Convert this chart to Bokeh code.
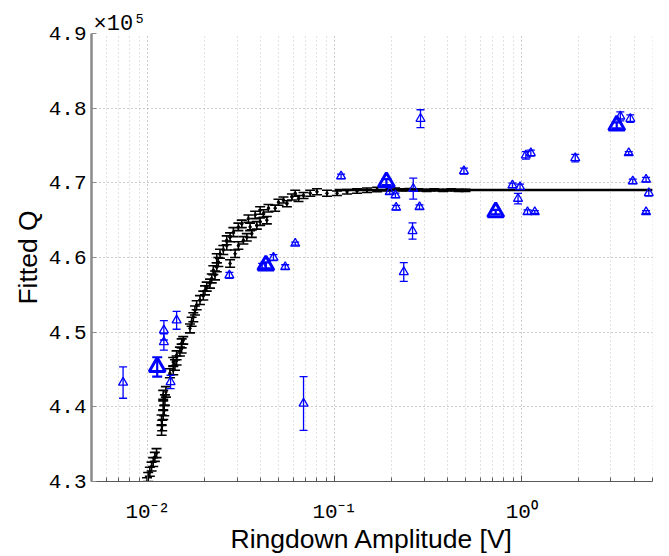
from bokeh.plotting import figure
from bokeh.models import (ColumnDataSource, Whisker, TeeHead, FixedTicker, Title)
from bokeh.embed import file_html
from bokeh.resources import INLINE

# ---------------- data (Q in units of 1e5) ----------------
black_amp = [0.00990, 0.01004, 0.01025, 0.01047, 0.01068, 0.01090, 0.01113,
             0.01184, 0.01193, 0.01184, 0.01208, 0.01223, 0.01208, 0.01234, 0.01208, 0.01249,
             0.01312, 0.01367, 0.01396, 0.01367, 0.01425, 0.01425, 0.01484, 0.01516, 0.01516, 0.01546,
             0.01680, 0.01715, 0.01750, 0.01786, 0.01824, 0.01900, 0.01979, 0.02021, 0.02064,
             0.02149, 0.02196, 0.02287, 0.02239, 0.02336, 0.02382, 0.02336, 0.02432, 0.02533,
             0.02642, 0.02642, 0.02753, 0.02867, 0.03049, 0.03180,
             0.02753, 0.02928, 0.03049, 0.03243, 0.03382, 0.03597, 0.03523, 0.03826, 0.03986, 0.04329,
             0.03450, 0.03748, 0.03986, 0.04151, 0.04416, 0.04797, 0.04996, 0.05315, 0.05542,
             0.05896, 0.06141, 0.06396, 0.06803, 0.07389, 0.08027, 0.09082,
             0.1028, 0.1163, 0.1315, 0.1488, 0.1684, 0.1905,
             0.210, 0.230, 0.250, 0.280, 0.310, 0.340, 0.380, 0.420, 0.460, 0.500]
black_q = [4.299, 4.306, 4.313, 4.320, 4.326, 4.333, 4.338,
           4.369, 4.375, 4.382, 4.389, 4.395, 4.402, 4.409, 4.416, 4.420,
           4.445, 4.449, 4.456, 4.460, 4.462, 4.469, 4.474, 4.478, 4.485, 4.489,
           4.505, 4.514, 4.520, 4.529, 4.536, 4.543, 4.549, 4.556, 4.561,
           4.565, 4.572, 4.576, 4.583, 4.587, 4.594, 4.599, 4.605, 4.610,
           4.616, 4.623, 4.627, 4.634, 4.641, 4.645,
           4.592, 4.605, 4.616, 4.623, 4.627, 4.632, 4.641, 4.643, 4.648, 4.650,
           4.652, 4.657, 4.663, 4.659, 4.666, 4.666, 4.674, 4.677, 4.672,
           4.681, 4.686, 4.679, 4.683, 4.686, 4.688, 4.686,
           4.686, 4.688, 4.689, 4.690, 4.691, 4.692,
           4.6915, 4.6905, 4.691, 4.6905, 4.690, 4.6905, 4.690, 4.6905, 4.690, 4.690]
black_err = [0.006, 0.006, 0.006, 0.006, 0.006, 0.006, 0.006,
             0.007, 0.007, 0.007, 0.006, 0.007, 0.006, 0.007, 0.006, 0.007,
             0.006, 0.006, 0.007, 0.006, 0.006, 0.006, 0.006, 0.006, 0.006, 0.005,
             0.006, 0.006, 0.006, 0.006, 0.006, 0.006, 0.006, 0.006, 0.006,
             0.006, 0.006, 0.006, 0.006, 0.006, 0.006, 0.006, 0.006, 0.006,
             0.006, 0.006, 0.006, 0.006, 0.005, 0.005,
             0.005, 0.005, 0.005, 0.005, 0.005, 0.005, 0.005, 0.005, 0.005, 0.005,
             0.005, 0.005, 0.005, 0.005, 0.005, 0.004, 0.004, 0.004, 0.004,
             0.004, 0.004, 0.004, 0.004, 0.004, 0.004, 0.004,
             0.003, 0.003, 0.003, 0.003, 0.003, 0.003,
             0.0015, 0.0015, 0.0015, 0.0015, 0.0015, 0.0015, 0.0015, 0.0015, 0.0015, 0.0015]

fit_amp = [0.1, 5.0]
fit_q = [4.6905, 4.6905]

blue_amp = [0.00737, 0.01218, 0.01218, 0.01425, 0.01323, 0.02729, 0.04086, 0.04697,
            0.05428, 0.06141, 0.06803, 0.1080, 0.1967, 0.2110, 0.2129, 0.2627,
            0.2873, 0.2838, 0.2604, 0.2338, 0.4905, 0.8915, 0.979, 0.955,
            1.051, 1.118, 1.073, 1.174, 1.932, 3.366, 3.808, 3.734,
            3.924, 4.622, 4.78, 4.622]
blue_q = [4.4325, 4.5025, 4.4869, 4.5159, 4.4333, 4.5762, 4.5882, 4.5999,
          4.5873, 4.6186, 4.4044, 4.7087, 4.6877, 4.6833, 4.6668, 4.6922,
          4.7859, 4.6676, 4.6355, 4.5806, 4.7158, 4.6967, 4.6944, 4.6788,
          4.7368, 4.7399, 4.6609, 4.6609, 4.7332, 4.789, 4.7859, 4.7399,
          4.702, 4.7043, 4.6863, 4.6609]
blue_err = [0.021, 0.013, 0.011, 0.012, 0.009, 0.004, 0.004, 0.004,
            0.003, 0.002, 0.036, 0.003, 0.003, 0.003, 0.003, 0.014,
            0.012, 0.003, 0.011, 0.0125, 0.004, 0.003, 0.004, 0.007,
            0.005, 0.004, 0.003, 0.002, 0.005, 0.006, 0.005, 0.002,
            0.003, 0.003, 0.004, 0.002]

blue_big_amp = [0.01122, 0.04277, 0.1888, 0.7255, 3.22]
blue_big_q = [4.4534, 4.5896, 4.7011, 4.6609, 4.777]
blue_big_err = [0.013, 0.004, 0.004, 0.003, 0.004]

x_ticks = [0.01, 0.1, 1.0]
x_tick_labels = ["10\u207b\u00b2", "10\u207b\u00b9", "10\u2070"]
x_minor_ticks = [0.005, 0.006, 0.007, 0.008, 0.009,
                 0.02, 0.03, 0.04, 0.05, 0.06, 0.07, 0.08, 0.09,
                 0.2, 0.3, 0.4, 0.5, 0.6, 0.7, 0.8, 0.9,
                 2.0, 3.0, 4.0, 5.0]
y_ticks = [4.3, 4.4, 4.5, 4.6, 4.7, 4.8, 4.9]
y_tick_labels = ["4.3", "4.4", "4.5", "4.6", "4.7", "4.8", "4.9"]
exp_label = "\u00d710\u2075"
x_label = "Ringdown Amplitude [V]"
y_label = "Fitted Q"


def src(a, q, e):
    return ColumnDataSource(dict(amp=a, q=q,
                                 lo=[v - d for v, d in zip(q, e)],
                                 hi=[v + d for v, d in zip(q, e)]))


p = figure(width=661, height=556, x_axis_type="log",
           x_range=(0.004995, 5.003), y_range=(4.3, 4.9),
           output_backend="svg", toolbar_location=None,
           min_border_left=91, min_border_right=9,
           min_border_top=33, min_border_bottom=75)

p.title = Title(text=exp_label, align="left", text_font="Liberation Mono",
                text_font_size="22px", text_font_style="normal",
                text_color="black", offset=2, standoff=-6)

p.background_fill_color = "white"
p.border_fill_color = "white"
p.outline_line_color = None

# grids
p.xgrid.ticker = FixedTicker(ticks=x_ticks, minor_ticks=x_minor_ticks)
p.xgrid.grid_line_color = "#9a9a9a"
p.xgrid.grid_line_dash = "1 3"
p.xgrid.minor_grid_line_color = "#c4c4c4"
p.xgrid.minor_grid_line_dash = "1 3"
p.ygrid.ticker = FixedTicker(ticks=y_ticks)
p.ygrid.grid_line_color = "#9a9a9a"
p.ygrid.grid_line_dash = "1 3"

# axes
xa = p.xaxis[0]
xa.ticker = FixedTicker(ticks=x_ticks, minor_ticks=x_minor_ticks)
xa.major_label_overrides = {t: l for t, l in zip(x_ticks, x_tick_labels)}
xa.axis_label = x_label
ya = p.yaxis[0]
ya.ticker = FixedTicker(ticks=y_ticks)
ya.major_label_overrides = {t: l for t, l in zip(y_ticks, y_tick_labels)}
ya.axis_label = y_label

for ax in (xa, ya):
    ax.major_label_text_font = "Liberation Mono"
    ax.major_label_text_font_size = "21px"
    ax.major_label_text_color = "black"
    ax.axis_label_text_font = "Liberation Sans"
    ax.axis_label_text_font_size = "26.5px"
    ax.axis_label_text_font_style = "normal"
    ax.axis_label_text_color = "black"
    ax.major_tick_out = 0
    ax.minor_tick_out = 0

xa.axis_line_color = "#5a5a5a"
xa.axis_line_width = 1.2
xa.major_tick_in = 6
xa.minor_tick_in = 4
xa.major_tick_line_color = "#5a5a5a"
xa.minor_tick_line_color = "#5a5a5a"
xa.major_label_standoff = 19
xa.axis_label_standoff = -3

ya.axis_line_color = "#8a8a8a"
ya.axis_line_width = 2.5
ya.major_tick_in = 5
ya.major_tick_line_color = "#8a8a8a"
ya.minor_tick_line_color = None
ya.major_label_standoff = 5
ya.axis_label_standoff = 3

# black data with error bars
bsrc = src(black_amp, black_q, black_err)
p.add_layout(Whisker(source=bsrc, base="amp", lower="lo", upper="hi",
                     dimension="height", line_color="black", line_width=1.6,
                     upper_head=TeeHead(size=10, line_color="black", line_width=1.6),
                     lower_head=TeeHead(size=10, line_color="black", line_width=1.6)))
p.scatter("amp", "q", source=bsrc, marker="circle", size=2.5, color="black")

# fit line
p.line(fit_amp, fit_q, line_color="black", line_width=2.5)

# blue data
s1 = src(blue_amp, blue_q, blue_err)
p.add_layout(Whisker(source=s1, base="amp", lower="lo", upper="hi",
                     dimension="height", line_color="blue", line_width=1.3,
                     upper_head=TeeHead(size=8, line_color="blue", line_width=1.3),
                     lower_head=TeeHead(size=8, line_color="blue", line_width=1.3)))
p.scatter("amp", "q", source=s1, marker="triangle", size=9, fill_color=None,
          line_color="blue", line_width=1.3, level="overlay")

s2 = src(blue_big_amp, blue_big_q, blue_big_err)
p.add_layout(Whisker(source=s2, base="amp", lower="lo", upper="hi",
                     dimension="height", line_color="blue", line_width=2.2,
                     upper_head=TeeHead(size=10, line_color="blue", line_width=2.2),
                     lower_head=TeeHead(size=10, line_color="blue", line_width=2.2)))
p.scatter("amp", "q", source=s2, marker="triangle", size=16, fill_color=None,
          line_color="blue", line_width=3, level="overlay")

open("out.html", "w").write(file_html(p, INLINE))
